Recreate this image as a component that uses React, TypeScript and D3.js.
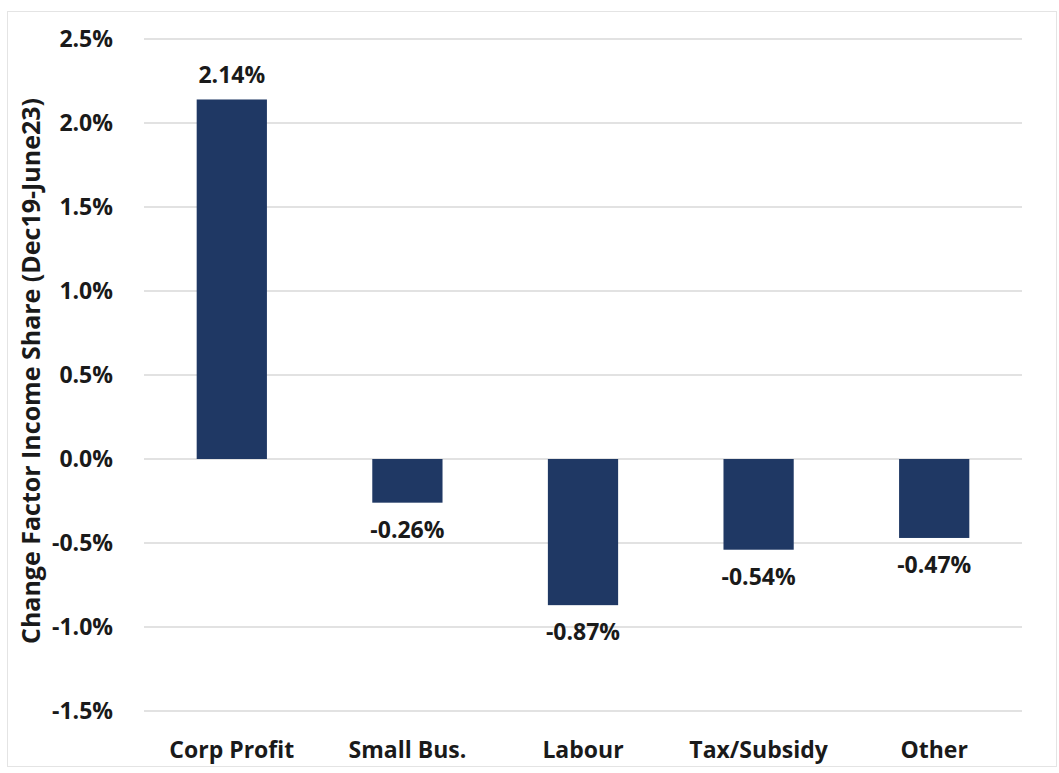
import * as d3 from 'd3';
import { useEffect, useRef } from 'react';

const categories = ['Corp Profit', 'Small Bus.', 'Labour', 'Tax/Subsidy', 'Other'];
const changes = [2.14, -0.26, -0.87, -0.54, -0.47];
const yTicks = [2.5, 2.0, 1.5, 1.0, 0.5, 0.0, -0.5, -1.0, -1.5];

const W = 1059;
const H = 773;
const FONT = 'Open Sans, Noto Sans, sans-serif';
const FS = 23;

const App = () => {
    const ref = useRef<SVGSVGElement | null>(null);

    useEffect(() => {
        if (!ref.current) return;
        const svg = d3.select(ref.current);
        svg.selectAll('*').remove();

        const margin = { top: 39, right: 37, bottom: 62, left: 144 };
        const innerW = W - margin.left - margin.right;
        const innerH = H - margin.top - margin.bottom;

        // outer chart frame
        svg.append('rect')
            .attr('x', 7.5).attr('y', 11.5)
            .attr('width', 1049).attr('height', 755)
            .attr('fill', 'white')
            .attr('stroke', '#e4e4e4')
            .attr('stroke-width', 1);

        const g = svg.append('g').attr('transform', `translate(${margin.left},${margin.top})`);

        const x = d3.scaleBand()
            .domain(categories)
            .range([0, innerW])
            .paddingInner(0.6)
            .paddingOuter(0.3);

        const y = d3.scaleLinear().domain([-1.5, 2.5]).range([innerH, 0]);

        g.append('g')
            .selectAll('line')
            .data(yTicks)
            .enter().append('line')
            .attr('x1', 0).attr('x2', innerW)
            .attr('y1', d => y(d)).attr('y2', d => y(d))
            .attr('stroke', '#d9d9d9')
            .attr('stroke-width', 1.5);

        g.append('g')
            .selectAll('text')
            .data(yTicks)
            .enter().append('text')
            .attr('x', -31)
            .attr('y', d => y(d))
            .attr('dy', '0.35em')
            .attr('text-anchor', 'end')
            .attr('font-family', FONT)
            .attr('font-weight', 700)
            .attr('font-size', FS)
            .attr('fill', '#1a1a1a')
            .text(d => `${d.toFixed(1)}%`);

        const data = categories.map((c, i) => ({ c, v: changes[i] }));

        g.selectAll('.bar')
            .data(data)
            .enter().append('rect')
            .attr('class', 'bar')
            .attr('x', d => x(d.c)!)
            .attr('width', x.bandwidth())
            .attr('y', d => y(Math.max(0, d.v)))
            .attr('height', d => Math.abs(y(d.v) - y(0)))
            .attr('fill', '#1f3864');

        g.selectAll('.val')
            .data(data)
            .enter().append('text')
            .attr('class', 'val')
            .attr('x', d => x(d.c)! + x.bandwidth() / 2)
            .attr('y', d => d.v >= 0 ? y(d.v) - 16 : y(d.v) + 35)
            .attr('text-anchor', 'middle')
            .attr('font-family', FONT)
            .attr('font-weight', 700)
            .attr('font-size', FS)
            .attr('fill', '#1a1a1a')
            .text(d => `${d.v.toFixed(2)}%`);

        g.selectAll('.cat')
            .data(categories)
            .enter().append('text')
            .attr('class', 'cat')
            .attr('x', d => x(d)! + x.bandwidth() / 2)
            .attr('y', innerH + 47)
            .attr('text-anchor', 'middle')
            .attr('font-family', FONT)
            .attr('font-weight', 700)
            .attr('font-size', FS)
            .attr('fill', '#1a1a1a')
            .text(d => d);

        svg.append('text')
            .attr('transform', `translate(40,371) rotate(-90)`)
            .attr('text-anchor', 'middle')
            .attr('font-family', FONT)
            .attr('font-weight', 700)
            .attr('font-size', 25)
            .attr('fill', '#1a1a1a')
            .text('Change Factor Income Share (Dec19-June23)');
    }, []);

    return (
        <svg ref={ref} width={W} height={H} style={{ position: 'absolute', left: 0, top: 0 }} />
    );
};

export default App;
